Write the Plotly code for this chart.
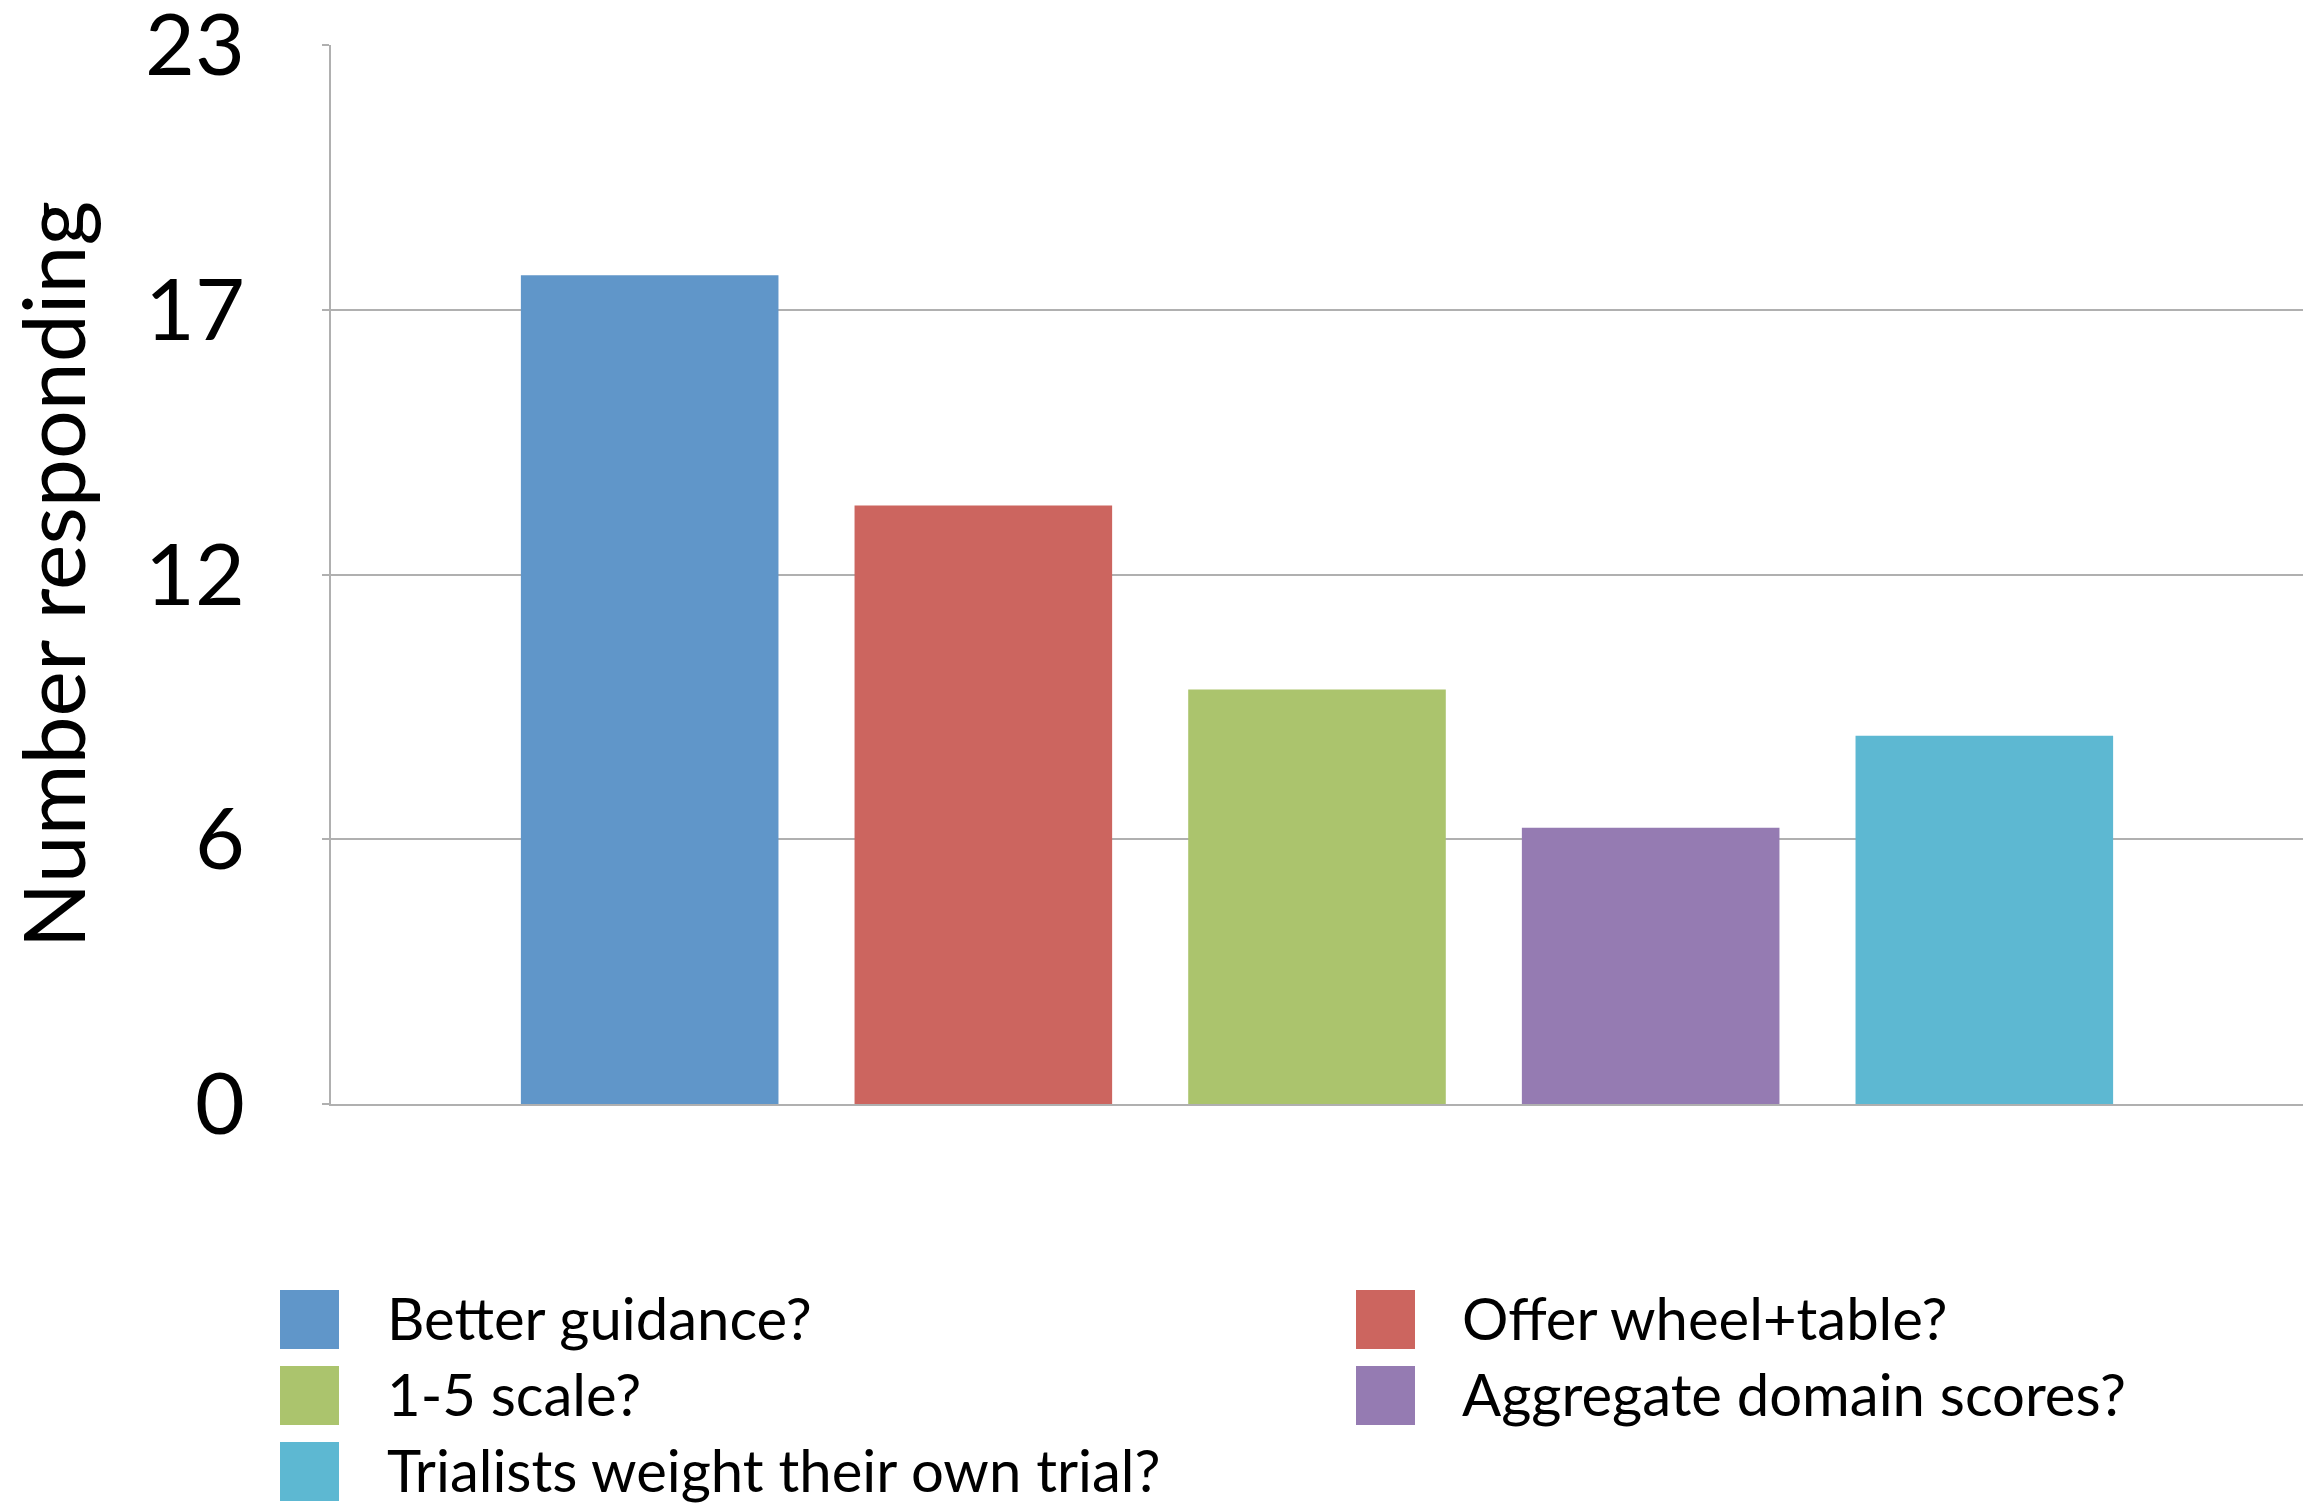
import plotly.graph_objects as go

# Survey responses: one bar per suggested change
options = [
    "Better guidance?",
    "Offer wheel+table?",
    "1-5 scale?",
    "Aggregate domain scores?",
    "Trialists weight their own trial?",
]
responses = [18, 13, 9, 6, 8]
colors = ["#6096C9", "#CC655F", "#ABC46D", "#957BB2", "#5DB8D2"]

y_max = 23
tick_vals = [0, 5.75, 11.5, 17.25, 23]
tick_text = ["0", "6", "12", "17", "23"]

FONT = "Lato, 'Open Sans', sans-serif"
W, H = 2303, 1503
ML, MR, MT, MB = 331, 0, 45, 399

fig = go.Figure()
for name, val, col in zip(options, responses, colors):
    fig.add_trace(go.Bar(
        x=["Responses"], y=[val], name=name,
        marker=dict(color=col, line=dict(width=0)),
        showlegend=False,
    ))

# Two-column legend with large square swatches, placed below the plot
plot_w = W - ML - MR
plot_h = H - MT - MB


def px_x(px):
    return (px - ML) / plot_w


def px_y(py):
    return (H - MB - py) / plot_h


col_swatch = [280, 1356]
col_text = [385, 1460]
row_top = [1290, 1366, 1442]
sw = 59

shapes = []
annotations = []
for i, (name, col) in enumerate(zip(options, colors)):
    c, r = i % 2, i // 2
    x0, y0 = col_swatch[c], row_top[r]
    shapes.append(dict(
        type="rect", xref="paper", yref="paper",
        x0=px_x(x0), x1=px_x(x0 + sw), y0=px_y(y0 + sw), y1=px_y(y0),
        fillcolor=col, line=dict(width=0),
    ))
    annotations.append(dict(
        text=name, xref="paper", yref="paper",
        x=px_x(col_text[c]), y=px_y(y0 + sw / 2 - 2),
        xanchor="left", yanchor="middle", showarrow=False,
        font=dict(family=FONT, size=58, color="#000000"),
    ))

fig.update_layout(
    width=W, height=H,
    margin=dict(l=ML, r=MR, t=MT, b=MB, pad=0, autoexpand=False),
    paper_bgcolor="white", plot_bgcolor="white",
    barmode="group", bargap=0.154, bargroupgap=0.228,
    shapes=shapes, annotations=annotations,
    font=dict(family=FONT, color="#000000"),
)
fig.update_xaxes(
    showticklabels=False, showgrid=False, zeroline=False,
    showline=True, linecolor="#B0B0B0", linewidth=2,
    ticks="", fixedrange=True, automargin=False,
)
fig.update_yaxes(
    range=[0, y_max], tickvals=tick_vals, ticktext=tick_text,
    tickfont=dict(family=FONT, size=86, color="#000000"),
    ticks="outside", ticklen=7, tickcolor="#B0B0B0", tickwidth=2,
    ticklabelstandoff=60, ticklabeloverflow="allow",
    showgrid=True, gridcolor="#B0B0B0", gridwidth=2,
    zeroline=False, showline=True, linecolor="#B0B0B0", linewidth=2,
    automargin=False,
    title=dict(text="Number responding", standoff=70,
               font=dict(family=FONT, size=86, color="#000000")),
)

fig.write_html("out.html")
